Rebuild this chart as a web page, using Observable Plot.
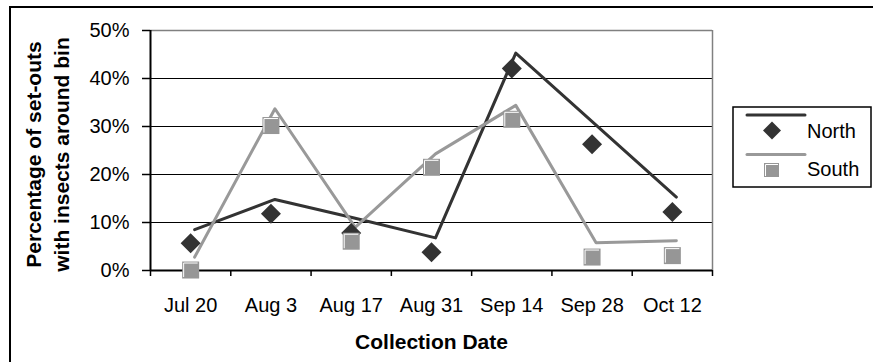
<!DOCTYPE html>
<html>
<head>
<meta charset="utf-8">
<script src="https://cdn.jsdelivr.net/npm/d3@7"></script>
<script src="https://cdn.jsdelivr.net/npm/@observablehq/plot@0.6"></script>
<style>
  html, body { margin: 0; padding: 0; background: #fff; }
  #chart svg { display: block; }
</style>
</head>
<body>
<div id="chart"></div>
<script>
// Collection dates (x categories)
const dates = ["Jul 20", "Aug 3", "Aug 17", "Aug 31", "Sep 14", "Sep 28", "Oct 12"];
// Percentage of set-outs with insects around bin, per site
const northPoints = [5.7, 11.8, 7.8, 3.8, 42.1, 26.3, 12.2];
const southPoints = [0.1, 30.2, 6.1, 21.5, 31.5, 2.8, 3.1];
// Connected line values drawn for each site
const northLine = [8.5, 14.8, 10.9, 6.8, 45.3, 30.3, 15.3];
const southLine = [2.8, 33.7, 9.0, 24.3, 34.4, 5.8, 6.2];
// Y axis ticks (percent)
const yTicks = [0, 10, 20, 30, 40, 50];
const seriesNames = ["North", "South"];

const darkColor = "#333333";
const lineGray = "#999999";
const squareGray = "#969696";
const font = "Arial, 'Liberation Sans', Helvetica, sans-serif";

const rows = (vals) => vals.map((v, i) => ({i, v}));

// Excel-like marker shapes
const diamondSymbol = (h) => ({draw(ctx) { ctx.moveTo(0, -h); ctx.lineTo(h, 0); ctx.lineTo(0, h); ctx.lineTo(-h, 0); ctx.closePath(); }});
const squareSymbol = (s) => ({draw(ctx) { ctx.rect(-s, -s, 2 * s, 2 * s); }});
const cornerSymbol = (s) => ({draw(ctx) { ctx.moveTo(-s + 1.5, s - 1.5); ctx.lineTo(-s + 1.5, -s + 1.5); ctx.lineTo(s - 1.5, -s + 1.5); }});

const boundaries = d3.range(8).map(k => k - 0.5);

const chart = Plot.plot({
  width: 873,
  height: 362,
  marginLeft: 150,
  marginRight: 161,
  marginTop: 30,
  marginBottom: 92,
  x: {type: "linear", domain: [-0.5, 6.5]},
  y: {domain: [0, 50]},
  style: {fontFamily: font, fontSize: "20px", color: "#000", background: "#fff", overflow: "visible"},
  marks: [
    Plot.ruleY(yTicks.slice(1, -1), {stroke: "#000", strokeWidth: 1}),
    Plot.ruleY([50], {stroke: "#808080", strokeWidth: 1.5}),
    Plot.ruleX([6.5], {stroke: "#808080", strokeWidth: 1.5}),
    Plot.axisY({ticks: yTicks, tickFormat: d => d + "%", tickSize: 8, tickPadding: 13, label: null, stroke: "#000", strokeWidth: 1.5, fontSize: 20}),
    Plot.axisX({ticks: boundaries, tickFormat: () => "", tickSize: 6, label: null, stroke: "#000", strokeWidth: 1.5}),
    Plot.axisX({ticks: d3.range(dates.length), tickFormat: i => dates[i], tickSize: 0, tickPadding: 27, label: null, fontSize: 20}),
    Plot.ruleX([-0.5], {stroke: "#000", strokeWidth: 2}),
    Plot.ruleY([0], {stroke: "#000", strokeWidth: 2}),
    Plot.line(rows(northLine), {x: "i", y: "v", stroke: darkColor, strokeWidth: 3, dx: 4}),
    Plot.line(rows(southLine), {x: "i", y: "v", stroke: lineGray, strokeWidth: 3, dx: 4}),
    Plot.dot(rows(northPoints), {x: "i", y: "v", symbol: diamondSymbol(10), fill: darkColor, stroke: "none"}),
    Plot.dot(rows(southPoints), {x: "i", y: "v", symbol: squareSymbol(8.5), fill: squareGray, stroke: "none"}),
    Plot.dot(rows(southPoints), {x: "i", y: "v", symbol: cornerSymbol(8.5), fill: "none", stroke: "#fff", strokeWidth: 1}),
    Plot.text(["Collection Date"], {frameAnchor: "bottom", dy: 72, fontWeight: "bold", fontSize: 21, lineAnchor: "middle", textAnchor: "middle"}),
    Plot.text(["Percentage of set-outs\nwith insects around bin"], {frameAnchor: "left", dx: -104, dy: 4, rotate: -90, fontWeight: "bold", fontSize: 21, lineHeight: 1.33, lineAnchor: "middle", textAnchor: "middle"})
  ]
});

const svg = d3.select(chart);

// Outer chart border
svg.append("rect")
  .attr("x", 10).attr("y", 7).attr("width", 900).attr("height", 400)
  .attr("fill", "none").attr("stroke", "#000").attr("stroke-width", 2);

// Legend
const lg = svg.append("g").attr("font-family", font).attr("font-size", 20).attr("text-anchor", "start");
lg.append("rect").attr("x", 733).attr("y", 107).attr("width", 138).attr("height", 80)
  .attr("fill", "#fff").attr("stroke", "#000").attr("stroke-width", 1.5);
const legendItems = [
  {name: seriesNames[0], color: darkColor, lineY: 115, baseline: 137.5},
  {name: seriesNames[1], color: lineGray, lineY: 154.5, baseline: 176}
];
legendItems.forEach((d, k) => {
  lg.append("line").attr("x1", 747).attr("x2", 805).attr("y1", d.lineY).attr("y2", d.lineY)
    .attr("stroke", d.color).attr("stroke-width", 3).attr("stroke-linecap", "round");
  if (k === 0) {
    lg.append("path").attr("d", "M772,121.5L781,130.5L772,139.5L763,130.5Z").attr("fill", darkColor);
  } else {
    lg.append("rect").attr("x", 764).attr("y", 163).attr("width", 15).attr("height", 14).attr("fill", squareGray);
    lg.append("path").attr("d", "M765.5,176V164.5H778").attr("fill", "none").attr("stroke", "#fff").attr("stroke-width", 1);
  }
  lg.append("text").attr("x", 807).attr("y", d.baseline).attr("text-anchor", "start").text(d.name);
});

document.getElementById("chart").appendChild(chart);
</script>
</body>
</html>
